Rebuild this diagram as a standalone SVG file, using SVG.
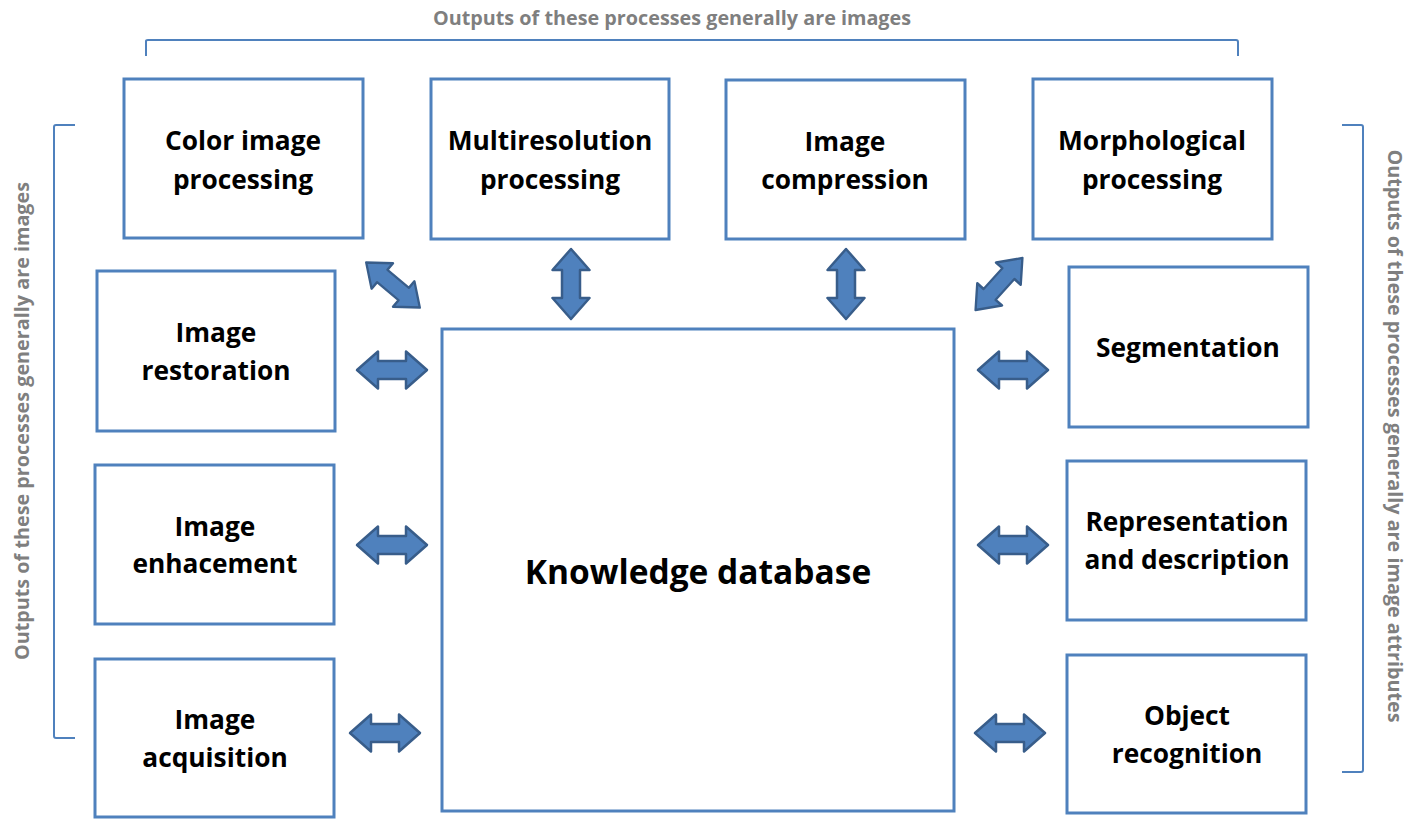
<svg xmlns="http://www.w3.org/2000/svg" width="1423" height="827" viewBox="0 0 1423 827">
<defs>
<style>
.box{fill:#fff;stroke:#4f81bd;stroke-width:3}
.t{font-family:"Open Sans","Liberation Sans",sans-serif;font-weight:bold;font-size:26.3px;fill:#000;text-anchor:middle}
.big{font-size:33.5px}
.g{font-family:"Open Sans","Liberation Sans",sans-serif;font-weight:bold;font-size:19.8px;fill:#7f7f7f;text-anchor:middle}
.br{fill:none;stroke:#4f81bd;stroke-width:2}
.ar{fill:#4f81bd;stroke:#385d8a;stroke-width:2.5;stroke-linejoin:round}
</style>
<path id="dar" d="M-35,0 L-14,-18.5 L-14,-9 L14,-9 L14,-18.5 L35,0 L14,18.5 L14,9 L-14,9 L-14,18.5 Z"/>
</defs>
<rect width="1423" height="827" fill="#fff"/>
<g id="brackets">
<path class="br" d="M146,56 V41 Q146,40 148,40 H1236 Q1238,40 1238,42 V56"/>
<path class="br" d="M75,125 H56 Q54,125 54,127 V736 Q54,738 56,738 H75"/>
<path class="br" d="M1342,125 H1361 Q1363,125 1363,127 V770 Q1363,772 1361,772 H1342"/>
<text class="g" x="672" y="25">Outputs of these processes generally are images</text>
<text class="g" transform="translate(29,421) rotate(-90)">Outputs of these processes generally are images</text>
<text class="g" transform="translate(1388,436) rotate(90)">Outputs of these processes generally are image attributes</text>
</g>
<g id="connectors">
<use href="#dar" class="ar" transform="translate(392,370)"/>
<use href="#dar" class="ar" transform="translate(392,545)"/>
<use href="#dar" class="ar" transform="translate(385,733)"/>
<use href="#dar" class="ar" transform="translate(1013,370)"/>
<use href="#dar" class="ar" transform="translate(1013,545)"/>
<use href="#dar" class="ar" transform="translate(1010,733)"/>
<use href="#dar" class="ar" transform="translate(571,284) rotate(90)"/>
<use href="#dar" class="ar" transform="translate(846,284) rotate(90)"/>
<use href="#dar" class="ar" transform="translate(393,285) rotate(40) scale(1,0.9)"/>
<use href="#dar" class="ar" transform="translate(999,284) rotate(-48) scale(1,0.9)"/>
</g>
<g id="n-color"><rect class="box" x="124" y="79" width="239" height="159"/><text class="t" x="243" y="150">Color image</text><text class="t" x="243" y="189">processing</text></g>
<g id="n-multi"><rect class="box" x="431" y="79" width="238" height="160"/><text class="t" x="550" y="150">Multiresolution</text><text class="t" x="550" y="189">processing</text></g>
<g id="n-compression"><rect class="box" x="726" y="80" width="239" height="159"/><text class="t" x="845" y="151">Image</text><text class="t" x="845" y="189">compression</text></g>
<g id="n-morph"><rect class="box" x="1033" y="79" width="239" height="160"/><text class="t" x="1152" y="150">Morphological</text><text class="t" x="1152" y="189">processing</text></g>
<g id="n-restoration"><rect class="box" x="97" y="271" width="238" height="160"/><text class="t" x="216" y="342">Image</text><text class="t" x="216" y="380">restoration</text></g>
<g id="n-enhancement"><rect class="box" x="95" y="465" width="239" height="159"/><text class="t" x="215" y="536">Image</text><text class="t" x="215" y="573">enhacement</text></g>
<g id="n-acquisition"><rect class="box" x="95" y="659" width="239" height="158"/><text class="t" x="215" y="729">Image</text><text class="t" x="215" y="767">acquisition</text></g>
<g id="n-kb"><rect class="box" x="442" y="329" width="512" height="482"/><text class="t big" x="698" y="584">Knowledge database</text></g>
<g id="n-segmentation"><rect class="box" x="1069" y="267" width="239" height="160"/><text class="t" x="1188" y="357">Segmentation</text></g>
<g id="n-representation"><rect class="box" x="1067" y="461" width="239" height="159"/><text class="t" x="1187" y="531">Representation</text><text class="t" x="1187" y="569">and description</text></g>
<g id="n-object"><rect class="box" x="1067" y="655" width="239" height="158"/><text class="t" x="1187" y="725">Object</text><text class="t" x="1187" y="763">recognition</text></g>
</svg>
